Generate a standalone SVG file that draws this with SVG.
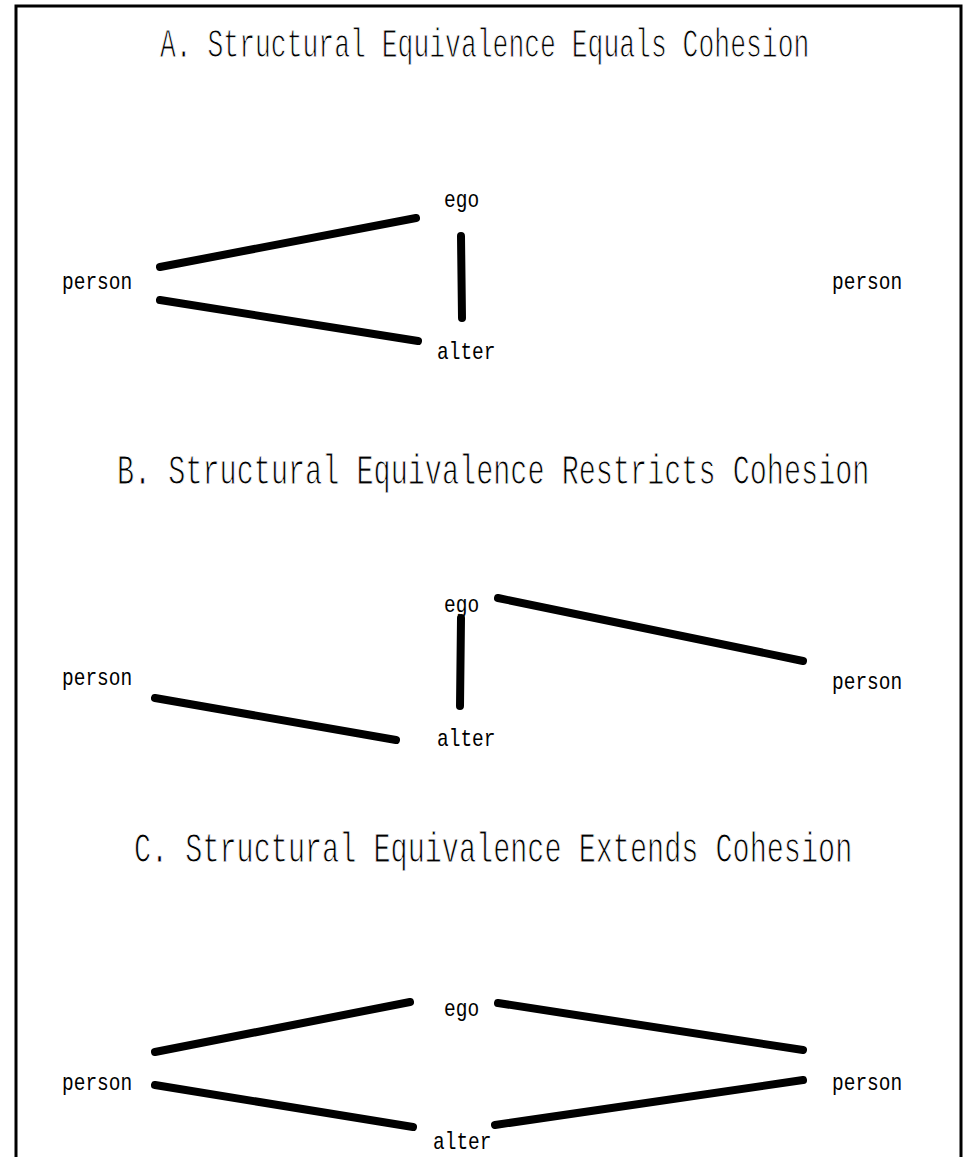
<svg xmlns="http://www.w3.org/2000/svg" width="965" height="1157" viewBox="0 0 965 1157">
<style>
.title{font-family:"Liberation Mono","DejaVu Sans Mono",monospace;fill:#000;stroke:#fff;stroke-width:0.7px;}
.lbl{font-family:"Liberation Mono","DejaVu Sans Mono",monospace;font-size:19.5px;fill:#000;}
.edge{stroke:#000;stroke-width:8;stroke-linecap:round;fill:none;}
</style>
<rect width="965" height="1157" fill="#fff"/>
<path d="M16,1157 V6 H961 V1157" fill="none" stroke="#000" stroke-width="3"/>
<g id="titles">
<text class="title" font-size="26.4" transform="translate(160,57) scale(1,1.55)">A. Structural Equivalence Equals Cohesion</text>
<text class="title" font-size="28.5" transform="translate(117,484) scale(1,1.5)">B. Structural Equivalence Restricts Cohesion</text>
<text class="title" font-size="28.5" transform="translate(134,862) scale(1,1.5)">C. Structural Equivalence Extends Cohesion</text>
</g>
<g id="connectors">
<line class="edge" x1="160" y1="267" x2="416" y2="218"/>
<line class="edge" x1="160" y1="300" x2="418" y2="341"/>
<line class="edge" x1="461" y1="236" x2="462" y2="318"/>
<line class="edge" x1="498" y1="598" x2="803" y2="661"/>
<line class="edge" x1="155" y1="698" x2="396" y2="740"/>
<line class="edge" x1="461" y1="618" x2="460" y2="706"/>
<line class="edge" x1="155" y1="1052" x2="410" y2="1002"/>
<line class="edge" x1="155" y1="1085" x2="413" y2="1127"/>
<line class="edge" x1="498" y1="1003" x2="803" y2="1050"/>
<line class="edge" x1="495" y1="1125" x2="803" y2="1080"/>
</g>
<g id="A-ego"><text class="lbl" transform="translate(444,207) scale(1,1.2)">ego</text></g>
<g id="A-person-left"><text class="lbl" transform="translate(62,289) scale(1,1.2)">person</text></g>
<g id="A-person-right"><text class="lbl" transform="translate(832,289) scale(1,1.2)">person</text></g>
<g id="A-alter"><text class="lbl" transform="translate(437,359) scale(1,1.2)">alter</text></g>
<g id="B-ego"><text class="lbl" transform="translate(444,612) scale(1,1.2)">ego</text></g>
<g id="B-person-left"><text class="lbl" transform="translate(62,685) scale(1,1.2)">person</text></g>
<g id="B-person-right"><text class="lbl" transform="translate(832,689) scale(1,1.2)">person</text></g>
<g id="B-alter"><text class="lbl" transform="translate(437,746) scale(1,1.2)">alter</text></g>
<g id="C-ego"><text class="lbl" transform="translate(444,1016) scale(1,1.2)">ego</text></g>
<g id="C-person-left"><text class="lbl" transform="translate(62,1090) scale(1,1.2)">person</text></g>
<g id="C-person-right"><text class="lbl" transform="translate(832,1090) scale(1,1.2)">person</text></g>
<g id="C-alter"><text class="lbl" transform="translate(433,1149) scale(1,1.2)">alter</text></g>
</svg>
